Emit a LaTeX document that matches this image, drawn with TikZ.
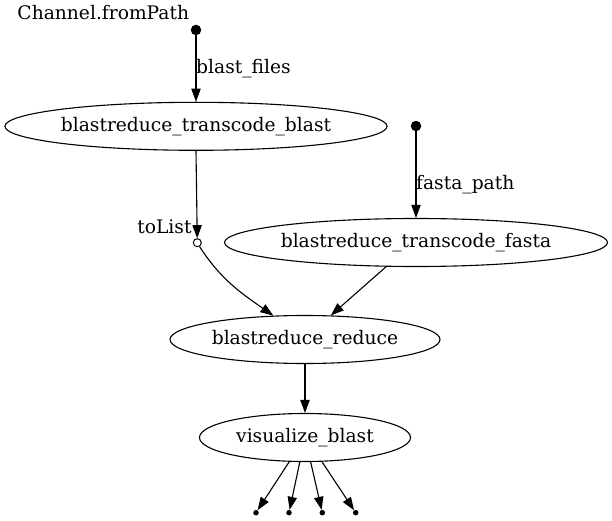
\documentclass[tikz,border=0pt]{standalone}
\usepackage{fontspec}
\setmainfont{DejaVu Serif}
\usetikzlibrary{shapes.geometric,arrows.meta}
\begin{document}
\begin{tikzpicture}[x=1pt,y=-1pt,
  txt/.style={font=\fontsize{18.67}{22}\selectfont},
  proc/.style={txt,draw,ellipse,line width=1.1pt,inner sep=0pt,minimum height=48pt},
  src/.style={circle,fill,inner sep=0pt,minimum size=10.5pt},
  sink/.style={circle,fill,inner sep=0pt,minimum size=5.5pt},
  op/.style={circle,draw,fill=white,inner sep=0pt,minimum size=8pt,line width=1pt},
  lbl/.style={txt,inner sep=0pt},
  arr/.style={line width=1.1pt,-{Triangle[length=13pt,width=9.3pt]}},
]
\useasboundingbox (0,0) rectangle (612,521);
% nodes
\node[src] (p1) at (196,30) {};
\node[lbl,anchor=base east] (l1) at (189.3,20) {Channel.fromPath};
\node[proc,minimum width=382pt] (tb) at (196,126.3) {blastreduce\_transcode\_blast};
\node[src] (p2) at (416,126) {};
\node[proc,minimum width=383pt] (fa) at (416,242.5) {blastreduce\_transcode\_fasta};
\node[op] (tl) at (197.3,242.7) {};
\node[lbl,anchor=base east] (l2) at (191.7,233.3) {toList};
\node[proc,minimum width=270pt] (red) at (305,339.5) {blastreduce\_reduce};
\node[proc,minimum width=211pt] (vis) at (305,437.5) {visualize\_blast};
\node[sink] (d1) at (256,512.7) {};
\node[sink] (d2) at (289,512.7) {};
\node[sink] (d3) at (322.3,512.7) {};
\node[sink] (d4) at (355.7,512.7) {};
\node[lbl,anchor=base west] (lbf) at (196,74) {blast\_files};
\node[lbl,anchor=base west] (lfp) at (416,190) {fasta\_path};
% edges
\draw[arr] (p1) -- (tb);
\draw[arr] (p2) -- (fa);
\draw[arr] (tb.south) -- (tl);
\draw[arr] (tl.300) to[out=-57,in=145] (red.143);
\draw[arr] (fa.219.3) -- (red.43.6);
\draw[arr] (red) -- (vis);
\draw[arr] (vis.237.8) -- (d1);
\draw[arr] (vis.258) -- (d2);
\draw[arr] (vis.283) -- (d3);
\draw[arr] (vis.305) -- (d4);
\end{tikzpicture}
\end{document}
